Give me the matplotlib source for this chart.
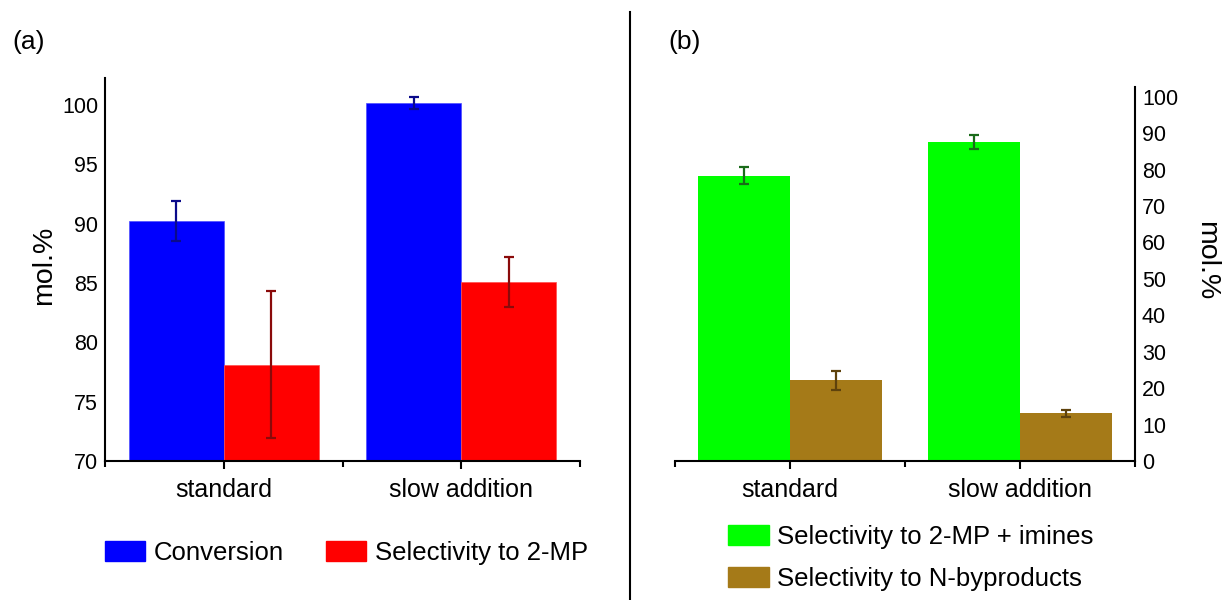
import numpy as np
import matplotlib
matplotlib.use('Agg')
import matplotlib.pyplot as plt
from matplotlib.lines import Line2D
from matplotlib.patches import Patch

plt.rcParams['font.family'] = ['Liberation Sans', 'DejaVu Sans']

# data
categories = ['standard', 'slow addition']
conversion = [90.2, 100.2]
conversion_err = [1.7, 0.5]
sel_2mp = [78.1, 85.1]
sel_2mp_err = [6.2, 2.1]
sel_2mp_imines = [78.3, 87.6]
sel_2mp_imines_err = [2.3, 1.8]
sel_nbyprod = [22.2, 13.1]
sel_nbyprod_err = [2.6, 0.9]

x = np.arange(len(categories))
w = 0.4

fig = plt.figure(figsize=(12.23, 6.0), dpi=100)

########
# panel (a)
ax1 = fig.add_axes([105/1223, 1-461/600, 475/1223, 383/600])
ax1.bar(x - w/2, conversion, w, color='#0000ff', edgecolor='#4d4dff', linewidth=0.5)
ax1.bar(x + w/2, sel_2mp, w, color='#ff0000', edgecolor='#ff4d4d', linewidth=0.5)
ax1.errorbar(x - w/2, conversion, yerr=conversion_err, fmt='none', ecolor='#0a0a8a',
             elinewidth=1.6, capsize=3.5, capthick=1.6)
ax1.errorbar(x + w/2, sel_2mp, yerr=sel_2mp_err, fmt='none', ecolor='#8a0a0a',
             elinewidth=1.6, capsize=3.5, capthick=1.6)
ax1.set_xlim(-0.5, 1.5)
ax1.set_ylim(70, 102.27)
ax1.set_yticks([70, 75, 80, 85, 90, 95, 100])
ax1.set_yticks([70], minor=True)
ax1.tick_params(axis='y', which='major', length=0, pad=5, labelsize=15.5)
ax1.tick_params(axis='y', which='minor', length=5, width=1.2)
ax1.spines['top'].set_visible(False)
ax1.spines['right'].set_visible(False)

# panel (b)
ax2 = fig.add_axes([675/1223, 1-461/600, 460/1223, 374/600])
ax2.bar(x - w/2, sel_2mp_imines, w, color='#00ff00')
ax2.bar(x + w/2, sel_nbyprod, w, color='#a57a18')
ax2.errorbar(x - w/2, sel_2mp_imines, yerr=sel_2mp_imines_err, fmt='none', ecolor='#1a6b1a',
             elinewidth=1.6, capsize=3.5, capthick=1.6)
ax2.errorbar(x + w/2, sel_nbyprod, yerr=sel_nbyprod_err, fmt='none', ecolor='#5e420c',
             elinewidth=1.6, capsize=3.5, capthick=1.6)
ax2.set_xlim(-0.5, 1.5)
ax2.set_ylim(0, 102.7)
ax2.set_yticks(range(0, 101, 10))
ax2.yaxis.tick_right()
ax2.tick_params(axis='y', which='major', length=0, pad=5, labelsize=15.5)
ax2.spines['top'].set_visible(False)
ax2.spines['left'].set_visible(False)

for ax in (ax1, ax2):
    ax.set_xticks(x)
    ax.set_xticklabels(categories, fontsize=18)
    ax.set_xticks([-0.5, 0.5, 1.5], minor=True)
    ax.tick_params(axis='x', which='major', length=6, width=1.5, pad=6)
    ax.tick_params(axis='x', which='minor', length=4, width=1.5)
    for s in ax.spines.values():
        s.set_linewidth(1.5)

# y axis titles
fig.text(44/1223, 1-265/600, 'mol.%', fontsize=20.5, rotation=90, ha='center', va='center')
fig.text(1206/1223, 1-261/600, 'mol.%', fontsize=20.5, rotation=270, ha='center', va='center')

# legends
fig.legend(handles=[Patch(color='#0000ff', label='Conversion'),
                    Patch(color='#ff0000', label='Selectivity to 2-MP')],
           loc='center left', bbox_to_anchor=(105/1223, 1-553/600), ncol=2,
           frameon=False, fontsize=18.5, borderpad=0, borderaxespad=0,
           handlelength=1.55, handleheight=0.8, handletextpad=0.35, columnspacing=1.65)
fig.legend(handles=[Patch(color='#00ff00', label='Selectivity to 2-MP + imines'),
                    Patch(color='#a57a18', label='Selectivity to N-byproducts')],
           loc='center left', bbox_to_anchor=(728/1223, 1-558/600), ncol=1,
           frameon=False, fontsize=18.5, borderpad=0, borderaxespad=0,
           handlelength=1.6, handleheight=0.8, handletextpad=0.3, labelspacing=0.7)

# separator and panel labels
fig.add_artist(Line2D([630/1223, 630/1223], [0, 1-12/600], color='black', linewidth=1.5))
fig.text(12/1223, 1-42/600, '(a)', fontsize=19, va='center')
fig.text(668/1223, 1-42/600, '(b)', fontsize=19, va='center')

fig.savefig('out.png', dpi=100)
